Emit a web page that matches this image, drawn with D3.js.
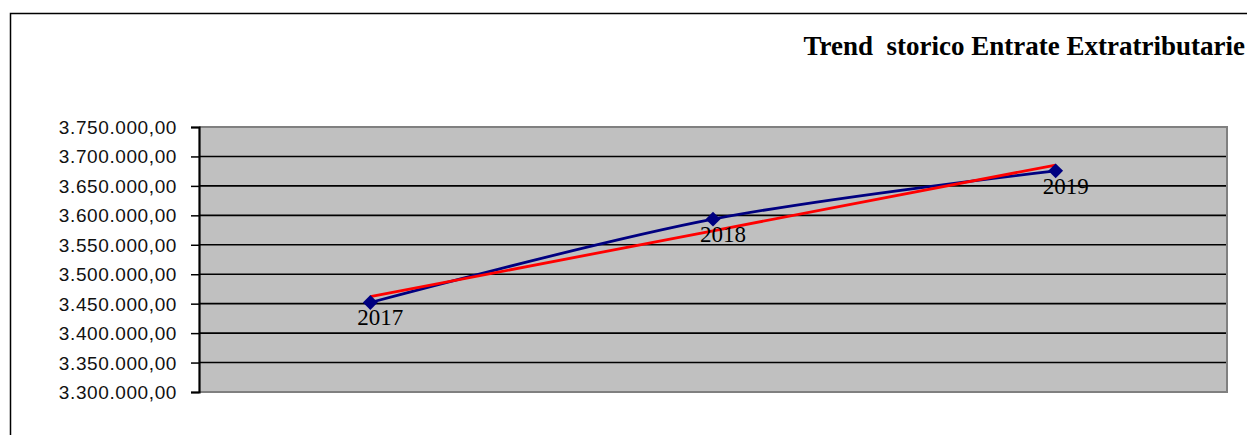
<!DOCTYPE html>
<html>
<head>
<meta charset="utf-8">
<script src="https://cdn.jsdelivr.net/npm/d3@7"></script>
<style>
  html, body { margin: 0; padding: 0; background: #fff; }
  svg { display: block; }
</style>
</head>
<body>
<svg id="chart" width="1247" height="435"></svg>
<script>
// Entrate extratributarie per anno
const years = ["2017", "2018", "2019"];
const entrate = [3452000, 3593500, 3675500];
const yTicks = [3300000, 3350000, 3400000, 3450000, 3500000, 3550000, 3600000, 3650000, 3700000, 3750000];
const titleText = "Trend  storico Entrate Extratributarie";

const svg = d3.select("#chart");
const W = 1247, H = 435;
const plot = { left: 199, right: 1227, top: 127, bottom: 392 };

// Italian number format: 3.750.000,00
const it = d3.formatLocale({ decimal: ",", thousands: ".", grouping: [3], currency: ["€", ""] });
const fmt = it.format(",.2f");

// Outer chart frame
svg.append("rect")
  .attr("x", 10.5).attr("y", 13.5)
  .attr("width", W + 20).attr("height", H + 20)
  .attr("fill", "none").attr("stroke", "#000").attr("stroke-width", 1.5);

// Title
svg.append("text")
  .attr("x", 1245).attr("y", 55)
  .attr("text-anchor", "end")
  .attr("font-family", "'Liberation Serif', 'Times New Roman', serif")
  .attr("font-weight", "bold")
  .attr("font-size", 27)
  .attr("fill", "#000")
  .style("white-space", "pre")
  .text(titleText);

const x = d3.scaleBand().domain(years).range([plot.left, plot.right]);
const y = d3.scaleLinear().domain([3300000, 3750000]).range([plot.bottom, plot.top]);
const cx = d => x(d) + x.bandwidth() / 2;

// Plot background
svg.append("rect")
  .attr("x", plot.left).attr("y", plot.top)
  .attr("width", plot.right - plot.left).attr("height", plot.bottom - plot.top)
  .attr("fill", "#c0c0c0");

// Horizontal gridlines
svg.append("g")
  .selectAll("line")
  .data(yTicks.slice(1, -1))
  .join("line")
  .attr("x1", plot.left).attr("x2", plot.right)
  .attr("y1", d => y(d)).attr("y2", d => y(d))
  .attr("stroke", "#000").attr("stroke-width", 1.6);

// Plot border (grey)
svg.append("path")
  .attr("d", `M${plot.left},${plot.top}H${plot.right}V${plot.bottom}H${plot.left}`)
  .attr("fill", "none").attr("stroke", "#808080").attr("stroke-width", 2);

// Y axis
const yAxis = d3.axisLeft(y).tickValues(yTicks).tickFormat(fmt).tickSize(8).tickPadding(14);
const gy = svg.append("g").attr("transform", `translate(${plot.left},0)`).call(yAxis);
gy.select(".domain").attr("stroke", "#000").attr("stroke-width", 2.2);
gy.selectAll(".tick line").attr("stroke", "#000").attr("stroke-width", 1.5);
gy.selectAll(".tick text")
  .attr("font-family", "'Liberation Sans', Arial, sans-serif")
  .attr("font-size", 19)
  .attr("letter-spacing", 0.6)
  .attr("fill", "#111")
  .attr("dy", "0.34em");

// Linear trend (least squares over year index)
const xs = entrate.map((_, i) => i);
const mx = d3.mean(xs), my = d3.mean(entrate);
const slope = d3.sum(xs, (xi, i) => (xi - mx) * (entrate[i] - my)) / d3.sum(xs, xi => (xi - mx) ** 2);
const intercept = my - slope * mx;
const trend = xs.map(xi => intercept + slope * xi);

// Smoothed data line
const line = d3.line()
  .x((d, i) => cx(years[i]))
  .y(d => y(d))
  .curve(d3.curveCatmullRom.alpha(0));

svg.append("path")
  .datum(entrate)
  .attr("d", line)
  .attr("fill", "none")
  .attr("stroke", "#000080")
  .attr("stroke-width", 2.8);

// Trend line
svg.append("path")
  .datum(trend)
  .attr("d", d3.line().x((d, i) => cx(years[i])).y(d => y(d)))
  .attr("fill", "none")
  .attr("stroke", "#ff0000")
  .attr("stroke-width", 2.8);

// Diamond markers
svg.append("g")
  .selectAll("path")
  .data(entrate)
  .join("path")
  .attr("transform", (d, i) => `translate(${cx(years[i])},${y(d)})`)
  .attr("d", d3.symbol(d3.symbolDiamond2, 140))
  .attr("fill", "#000080");

// Category labels beside each point
svg.append("g")
  .selectAll("text")
  .data(entrate)
  .join("text")
  .attr("x", (d, i) => cx(years[i]) + 10)
  .attr("y", d => y(d) + 23)
  .attr("text-anchor", "middle")
  .attr("font-family", "'Liberation Serif', 'Times New Roman', serif")
  .attr("font-size", 23)
  .attr("fill", "#000")
  .text((d, i) => years[i]);
</script>
</body>
</html>
